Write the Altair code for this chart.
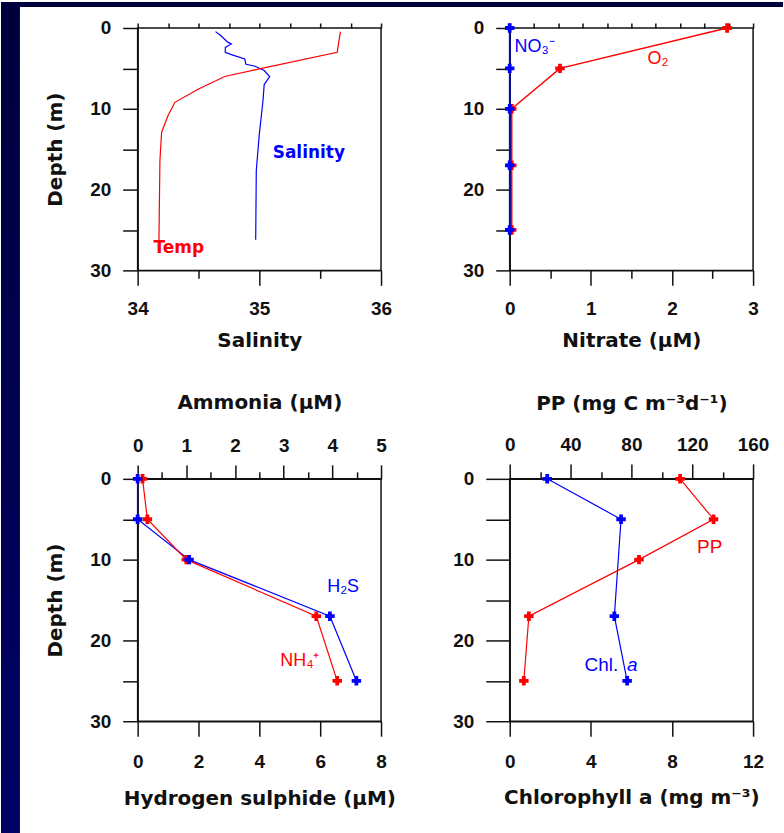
import altair as alt
import pandas as pd

# ---------------- data ----------------
# Panel 1: CTD profile (temperature drawn on the salinity-axis frame)
sal_depth = [0.45, 0.9, 1.75, 1.97, 2.4, 3.0, 3.3, 3.84, 4.5, 4.7, 5.27, 6.0, 7.0, 9.0, 13.1, 17.6, 26.2]
sal_value = [34.64, 34.68, 34.74, 34.77, 34.72, 34.72, 34.77, 34.88, 34.89, 34.96, 35.04, 35.085, 35.04, 35.03, 35.0, 34.975, 34.97]
temp_depth = [0.45, 1.5, 3.0, 5.07, 6.0, 7.55, 9.2, 10.84, 12.9, 16.4, 26.3]
temp_pos = [35.667, 35.655, 35.64, 35.0, 34.716, 34.50, 34.306, 34.25, 34.197, 34.183, 34.175]

# Panel 2: nitrate and oxygen (oxygen on the nitrate-axis frame)
nut_depth = [0, 5, 10, 17, 25]
nitrate = [0.0, 0.0, 0.0, 0.0, 0.0]
oxygen = [2.68, 0.62, 0.025, 0.025, 0.025]

# Panel 3: hydrogen sulphide and ammonia
sul_depth = [0, 5, 10, 17, 25]
h2s = [0.0, 0.0, 1.69, 6.32, 7.19]
nh4 = [0.1, 0.2, 1.0, 3.67, 4.1]

# Panel 4: chlorophyll a and primary production
chl_depth = [0, 5, 17, 25]
chl = [1.85, 5.49, 5.16, 5.79]
pp_depth = [0, 5, 10, 17, 25]
pp = [112, 134, 85, 12.6, 9.3]

# axis ticks / labels
depth_ticks = [0, 5, 10, 15, 20, 25, 30]
sal_major = [34, 35, 36]
sal_minor = [34.5, 35.5]
temp_ticks = [34, 34.25, 34.5, 34.75, 35, 35.25, 35.5, 35.75, 36]
nit_major = [0, 1, 2, 3]
nit_minor = [0.5, 1.5, 2.5]
o2_ticks = [0, 0.3, 0.6, 0.9, 1.2, 1.5, 1.8, 2.1, 2.4, 2.7, 3.0]
h2s_ticks = [0, 2, 4, 6, 8]
nh4_major = [0, 1, 2, 3, 4, 5]
nh4_minor = [0.5, 1.5, 2.5, 3.5, 4.5]
chl_ticks = [0, 4, 8, 12]
pp_major = [0, 40, 80, 120, 160]
pp_minor = [20, 60, 100, 140]

BLUE = "#0000ff"
RED = "#ff0000"
W, H = 244, 243
LINE_W = 1.2
PT_SIZE = 90
TXT_FONT = "Liberation Sans"
BOLD_TXT = "DejaVu Sans"


def make_y(title, tick):
    kw = dict(values=depth_ticks, orient="left",
              labelExpr="datum.value % 10 === 0 ? format(datum.value, 'd') : ''",
              tickSize=tick, labelPadding=12, titlePadding=24)
    kw["title"] = title if title else None

    def y():
        return alt.Y("depth:Q", scale=alt.Scale(domain=[0, 30], reverse=True, nice=False, zero=False),
                     axis=alt.Axis(**kw))
    return y


def xs(domain):
    return alt.Scale(domain=domain, nice=False, zero=False)


def major_axis(values, orient, tick, title, pad=14, tpad=14):
    return alt.Axis(values=values, orient=orient, tickSize=tick, title=title,
                    labelExpr="format(datum.value, 'd')", labelPadding=pad, titlePadding=tpad)


def minor_axis(values, orient, tick):
    return alt.Axis(values=values, orient=orient, tickSize=tick, labels=False,
                    domain=False, title=None)


def line(df, color, x, y, width=LINE_W):
    return alt.Chart(df).mark_line(color=color, strokeWidth=width).encode(
        x=x, y=y(), order=alt.Order("depth:Q"))


def pts(df, color, x, y):
    return alt.Chart(df).mark_point(shape="cross", filled=True, size=PT_SIZE,
                                    color=color, opacity=1).encode(x=x, y=y())


def label(text, xv, yv, color, x, y, font=TXT_FONT, size=18, weight="normal", style="normal"):
    df = pd.DataFrame({"val": [xv], "depth": [yv], "t": [text]})
    return alt.Chart(df).mark_text(align="left", baseline="middle", font=font,
                                   fontSize=size, fontWeight=weight, fontStyle=style,
                                   color=color).encode(x=x, y=y(), text="t:N")


# ---------------- panel 1 ----------------
df_sal = pd.DataFrame({"depth": sal_depth, "val": sal_value})
df_temp = pd.DataFrame({"depth": temp_depth, "val": temp_pos})
SD = [34, 36]
y1 = make_y("Depth (m)", 15)

band_df = pd.DataFrame({"k": [0]})
top_band = alt.Chart(band_df).mark_rect(color="#00003c").encode(
    x=alt.value(-137), x2=alt.value(647), y=alt.value(-26), y2=alt.value(-21))
left_band = alt.Chart(band_df).mark_rect(
    color=alt.LinearGradient(gradient="linear",
                             stops=[alt.GradientStop(color="#00003c", offset=0),
                                    alt.GradientStop(color="#000066", offset=1)],
                             x1=0, x2=0, y1=0, y2=1)).encode(
    x=alt.value(-137), x2=alt.value(-118), y=alt.value(-26), y2=alt.value(807))

p1_sal = line(df_sal, BLUE, alt.X("val:Q", scale=xs(SD), axis=minor_axis(sal_minor, "bottom", 8)), y1)
p1_temp = line(df_temp, RED, alt.X("val:Q", scale=xs(SD), axis=minor_axis(temp_ticks, "top", 5)), y1)
p1_lab_s = label("Salinity", 35.11, 15.5, BLUE, alt.X("val:Q", scale=xs(SD), axis=None), y1,
                 font=BOLD_TXT, size=17, weight="bold")
p1_lab_t = label("Temp", 34.13, 27.2, RED,
                 alt.X("val:Q", scale=xs(SD), axis=major_axis(sal_major, "bottom", 15, "Salinity", tpad=12)),
                 y1, font=BOLD_TXT, size=17, weight="bold")

p1 = alt.layer(top_band, left_band, p1_sal, p1_temp, p1_lab_s, p1_lab_t).resolve_scale(
    x="independent").resolve_axis(x="independent").properties(width=W, height=H)

# ---------------- panel 2 ----------------
df_no3 = pd.DataFrame({"depth": nut_depth, "val": nitrate})
df_o2 = pd.DataFrame({"depth": nut_depth, "val": oxygen})
ND = [0, 3]
y2 = make_y(None, 14)

p2_no3 = line(df_no3, BLUE, alt.X("val:Q", scale=xs(ND),
                                  axis=major_axis(nit_major, "bottom", 15, "Nitrate (µM)", tpad=12)),
              y2, width=1.6)
p2_o2 = line(df_o2, RED, alt.X("val:Q", scale=xs(ND), axis=minor_axis(o2_ticks, "top", 5)), y2, width=1.5)
p2_o2p = pts(df_o2, RED, alt.X("val:Q", scale=xs(ND), axis=None), y2)
p2_no3p = pts(df_no3, BLUE, alt.X("val:Q", scale=xs(ND), axis=minor_axis(nit_minor, "bottom", 8)), y2)
p2_lab_n = label("NO₃⁻", 0.06, 2.3, BLUE, alt.X("val:Q", scale=xs(ND), axis=None), y2)
p2_lab_o = label("O₂", 1.70, 3.9, RED, alt.X("val:Q", scale=xs(ND), axis=None), y2)

p2 = alt.layer(p2_no3, p2_o2, p2_o2p, p2_no3p, p2_lab_n, p2_lab_o).resolve_scale(
    x="independent").resolve_axis(x="independent").properties(width=W, height=H)

# ---------------- panel 3 ----------------
df_h2s = pd.DataFrame({"depth": sul_depth, "val": h2s})
df_nh4 = pd.DataFrame({"depth": sul_depth, "val": nh4})
HD = [0, 8]
AD = [0, 5]
y3 = make_y("Depth (m)", 15)

p3_h2s = line(df_h2s, BLUE, alt.X("val:Q", scale=xs(HD),
                                  axis=major_axis(h2s_ticks, "bottom", 15, "Hydrogen sulphide (µM)",
                                                  pad=16, tpad=17)), y3)
p3_nh4 = line(df_nh4, RED, alt.X("val:Q", scale=xs(AD),
                                 axis=major_axis(nh4_major, "top", 14, "Ammonia (µM)", pad=9, tpad=25)), y3)
p3_nh4p = pts(df_nh4, RED, alt.X("val:Q", scale=xs(AD), axis=minor_axis(nh4_minor, "top", 7)), y3)
p3_h2sp = pts(df_h2s, BLUE, alt.X("val:Q", scale=xs(HD), axis=None), y3)
p3_lab_h = label("H₂S", 6.23, 13.4, BLUE, alt.X("val:Q", scale=xs(HD), axis=None), y3)
p3_lab_a = label("NH₄⁺", 2.93, 22.5, RED, alt.X("val:Q", scale=xs(AD), axis=None), y3)

p3 = alt.layer(p3_h2s, p3_nh4, p3_nh4p, p3_h2sp, p3_lab_h, p3_lab_a).resolve_scale(
    x="independent").resolve_axis(x="independent").properties(width=W, height=H)

# ---------------- panel 4 ----------------
df_chl = pd.DataFrame({"depth": chl_depth, "val": chl})
df_pp = pd.DataFrame({"depth": pp_depth, "val": pp})
CD = [0, 12]
PD = [0, 160]
y4 = make_y(None, 24)

p4_chl = line(df_chl, BLUE, alt.X("val:Q", scale=xs(CD),
                                  axis=major_axis(chl_ticks, "bottom", 15, "Chlorophyll a (mg m⁻³)",
                                                  pad=16, tpad=16)), y4)
p4_pp = line(df_pp, RED, alt.X("val:Q", scale=xs(PD),
                               axis=major_axis(pp_major, "top", 15, "PP (mg C m⁻³d⁻¹)", pad=9, tpad=23)), y4)
p4_ppp = pts(df_pp, RED, alt.X("val:Q", scale=xs(PD), axis=minor_axis(pp_minor, "top", 7)), y4)
p4_chlp = pts(df_chl, BLUE, alt.X("val:Q", scale=xs(CD), axis=None), y4)
p4_lab_p = label("PP", 123.2, 8.4, RED, alt.X("val:Q", scale=xs(PD), axis=None), y4, size=19)
p4_lab_c = label("Chl.", 3.69, 23.1, BLUE, alt.X("val:Q", scale=xs(CD), axis=None), y4, size=19)
p4_lab_a = label("a", 5.78, 23.1, BLUE, alt.X("val:Q", scale=xs(CD), axis=None), y4, size=19,
                 style="italic")

p4 = alt.layer(p4_chl, p4_pp, p4_ppp, p4_chlp, p4_lab_p, p4_lab_c, p4_lab_a).resolve_scale(
    x="independent").resolve_axis(x="independent").properties(width=W, height=H)

chart = alt.concat(p1, p2, p3, p4, columns=2, spacing={"row": 209, "column": 129},
                   bounds="flush").properties(
    padding=0, background="white"
).configure_axis(
    domainColor="#111111", domainWidth=1.5, tickColor="#111111", tickWidth=1.5,
    labelFont="Liberation Sans", labelFontSize=19, labelFontWeight="bold", labelColor="#111111",
    titleFont="DejaVu Sans", titleFontSize=20, titleFontWeight="bold", titleColor="#111111",
    grid=False, labelFlush=False, labelOverlap=False
).configure_view(stroke="#111111", strokeWidth=1.5)

chart.save("out.html", embed_options={"renderer": "svg", "actions": False})
